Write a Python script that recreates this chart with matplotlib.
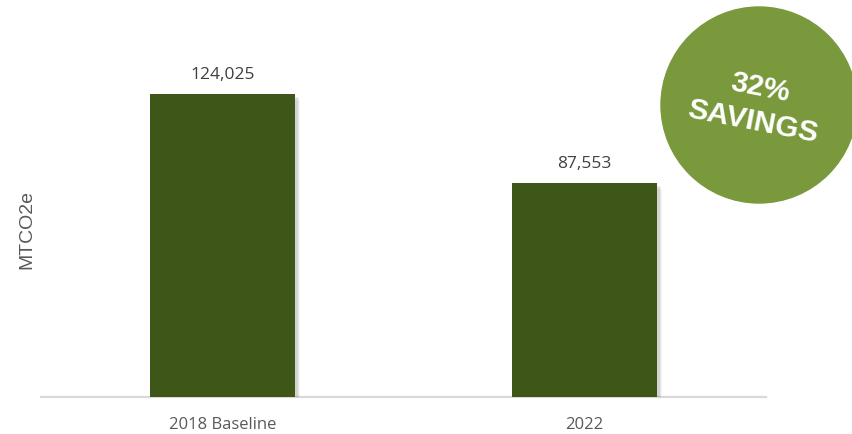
import matplotlib.pyplot as plt
from matplotlib.patches import Ellipse
import matplotlib.patheffects as pe

categories = ['2018 Baseline', '2022']
emissions = [124025, 87553]
savings_text = '32%\nSAVINGS'

BAR_COLOR = '#3e5617'
CIRCLE_COLOR = '#7a993c'


def do_plot():
    fig = plt.figure(figsize=(8.52, 4.34), dpi=100)
    ax = fig.add_axes([0.0487, 0.0853, 0.8498, 0.788])

    x = range(len(categories))
    shadow = [pe.SimplePatchShadow(offset=(o, -o), shadow_rgbFace='#000000', alpha=a)
              for o, a in [(4, 0.04), (3, 0.06), (2, 0.08)]]
    bars = ax.bar(x, emissions, width=0.4, color=BAR_COLOR, zorder=3)
    for b in bars:
        b.set_path_effects(shadow + [pe.Normal()])

    for xi, v in zip(x, emissions):
        ax.annotate(f'{v:,}', (xi, v), xytext=(0, 8), textcoords='offset points',
                    ha='center', va='bottom', fontsize=12.5, color='#404040',
                    family='Open Sans')

    ax.set_xlim(-0.5, len(categories) - 0.5)
    ax.set_ylim(0, 140000)
    ax.set_xticks(list(x))
    ax.set_xticklabels(categories, family='Open Sans', fontsize=12, color='#595959')
    ax.tick_params(axis='x', length=0, pad=14.5)
    ax.set_yticks([])
    for s in ['top', 'right', 'left']:
        ax.spines[s].set_visible(False)
    ax.spines['bottom'].set_color('#d9d9d9')
    ax.spines['bottom'].set_linewidth(1.6)

    ax.set_ylabel('MTCO2e', family='Liberation Sans', fontsize=14, color='#595959')
    ax.yaxis.set_label_coords(-0.008, 0.49)

    # savings badge
    cx, cy, r = 759 / 852, 1 - 105 / 434, 98
    fig.add_artist(Ellipse((cx, cy), 2 * r / 852, 2 * r / 434,
                           transform=fig.transFigure, color=CIRCLE_COLOR, zorder=5))
    fig.text(cx - 0.003, cy + 0.0, savings_text, ha='center', va='center',
             rotation=-11, rotation_mode='anchor', color='white', fontsize=21.5,
             fontweight='bold', family='Liberation Sans', linespacing=1.3, zorder=6)

    fig.savefig('out.png', dpi=100)


if __name__ == '__main__':
    do_plot()
